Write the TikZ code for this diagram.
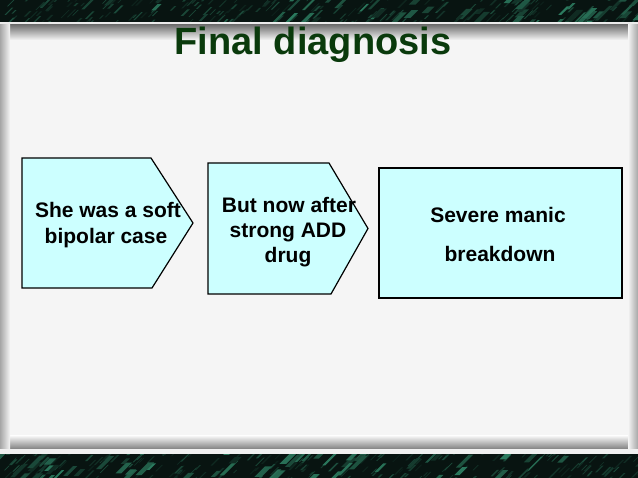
\documentclass[tikz,border=0pt]{standalone}
\usepackage{fontspec}
\setmainfont{Liberation Sans}
\definecolor{bandcol}{RGB}{8,20,17}
\definecolor{streak}{RGB}{60,170,130}
\definecolor{panelcol}{RGB}{245,245,245}
\definecolor{boxfill}{RGB}{204,255,255}
\definecolor{titlegreen}{RGB}{10,58,12}
\begin{document}
\begin{tikzpicture}[x=1pt,y=-1pt,
  boxshape/.style={fill=boxfill, draw=black, line width=1.2pt, line join=miter},
  boxtext/.style={font=\fontsize{21}{25}\selectfont\bfseries, anchor=base, inner sep=0pt},
  titletext/.style={font=\fontsize{38}{44}\selectfont\bfseries, anchor=base, inner sep=0pt}]
\useasboundingbox (0,0) rectangle (638,478);
\fill[bandcol] (0,0) rectangle (638,478);
% top band texture
\pgfmathsetseed{12}
\begin{scope}
\clip (0,0) rectangle (638,22);
\foreach \i in {1,...,220}{
  \pgfmathsetmacro{\sx}{638*rnd}
  \pgfmathsetmacro{\sy}{rnd*30}
  \pgfmathsetmacro{\sh}{3+rnd*6}
  \pgfmathsetmacro{\sw}{0.8+rnd*1.5}
  \pgfmathtruncatemacro{\so}{8+rnd*30}
  \fill[streak!\so!bandcol] (\sx,\sy) -- ++(\sw,0) -- ++(\sh,-\sh) -- ++(-\sw,0) -- cycle;
}
\foreach \i in {1,...,70}{
  \pgfmathsetmacro{\sx}{-10+648*sqrt(rnd)}
  \pgfmathsetmacro{\sy}{rnd*34}
  \pgfmathsetmacro{\sh}{5+rnd*10}
  \pgfmathsetmacro{\sw}{2+rnd*5}
  \pgfmathtruncatemacro{\so}{15+rnd*55}
  \fill[streak!\so!bandcol] (\sx,\sy) -- ++(\sw,0) -- ++(\sh,-\sh) -- ++(-\sw,0) -- cycle;
}
\end{scope}
% bottom band texture
\begin{scope}
\clip (0,454) rectangle (638,478);
\foreach \i in {1,...,220}{
  \pgfmathsetmacro{\sx}{638*rnd}
  \pgfmathsetmacro{\sy}{454+rnd*32}
  \pgfmathsetmacro{\sh}{3+rnd*6}
  \pgfmathsetmacro{\sw}{0.8+rnd*1.5}
  \pgfmathtruncatemacro{\so}{8+rnd*30}
  \fill[streak!\so!bandcol] (\sx,\sy) -- ++(\sw,0) -- ++(\sh,-\sh) -- ++(-\sw,0) -- cycle;
}
\foreach \i in {1,...,70}{
  \pgfmathsetmacro{\sx}{-10+648*(1-sqrt(rnd))}
  \pgfmathsetmacro{\sy}{454+rnd*34}
  \pgfmathsetmacro{\sh}{5+rnd*10}
  \pgfmathsetmacro{\sw}{2+rnd*5}
  \pgfmathtruncatemacro{\so}{15+rnd*55}
  \fill[streak!\so!bandcol] (\sx,\sy) -- ++(\sw,0) -- ++(\sh,-\sh) -- ++(-\sw,0) -- cycle;
}
\end{scope}
% panel and frame
\fill[panelcol] (0,22) rectangle (638,454);
\fill[black!8] (0,22) rectangle (638,25);
\shade[top color=black!55, bottom color=panelcol] (0,25) rectangle (638,40);
\shade[top color=panelcol, bottom color=black!50] (0,436) rectangle (638,449);
\fill[black!6] (0,449) rectangle (638,454);
\shade[left color=black!35, right color=panelcol] (0,25) rectangle (10,449);
\shade[left color=panelcol, right color=black!35] (628,25) rectangle (638,449);
% title
\node[titletext, text=titlegreen] (title) at (313,55) {Final diagnosis};
% shapes
\path[boxshape] (22,158) -- (151,158) -- (193,223) -- (152,288) -- (22,288) -- cycle;
\path[boxshape] (208,163) -- (329,163) -- (368,228.5) -- (331,294) -- (208,294) -- cycle;
\path[boxshape] (379,168) rectangle (622,298);
% texts
\node[boxtext] (a1) at (108,218) {She was a soft};
\node[boxtext] (a2) at (106,244) {bipolar case};
\node[boxtext] (b1) at (289,213) {But now after};
\node[boxtext] (b2) at (288,238) {strong ADD};
\node[boxtext] (b3) at (288,263) {drug};
\node[boxtext] (c1) at (498,223) {Severe manic};
\node[boxtext] (c2) at (500,262) {breakdown};
\end{tikzpicture}
\end{document}
